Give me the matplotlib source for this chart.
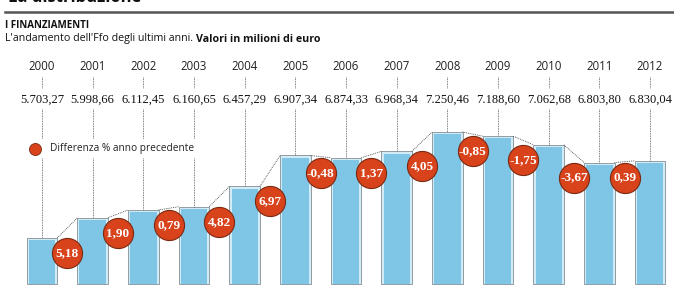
import matplotlib
matplotlib.use("Agg")
import matplotlib.pyplot as plt
import numpy as np

# dati Ffo (milioni di euro)
anni = ["2000", "2001", "2002", "2003", "2004", "2005", "2006",
        "2007", "2008", "2009", "2010", "2011", "2012"]
valori = [5703.27, 5998.66, 6112.45, 6160.65, 6457.29, 6907.34, 6874.33,
          6968.34, 7250.46, 7188.60, 7062.68, 6803.80, 6830.04]
etichette_valori = ["5.703,27", "5.998,66", "6.112,45", "6.160,65", "6.457,29",
                    "6.907,34", "6.874,33", "6.968,34", "7.250,46", "7.188,60",
                    "7.062,68", "6.803,80", "6.830,04"]
differenze = ["5,18", "1,90", "0,79", "4,82", "6,97", "-0,48", "1,37",
              "4,05", "-0,85", "-1,75", "-3,67", "0,39"]

W, H = 674, 287
BLU = "#7fc5e5"
BLU_CHIARO = "#d3ebf6"
ROSSO = "#d8431c"
SANS = ["Open Sans", "DejaVu Sans"]
SERIF = ["Liberation Serif", "DejaVu Serif"]

# scala verticale: 1 px = UNIT unita'
UNIT = 14.594
TOP = 5703.27 + 238 * UNIT


def py(px):
    # riga in pixel (dall'alto) -> coordinata dati
    return TOP - px * UNIT


STEP = 50.67
fig = plt.figure(figsize=(W / 100, H / 100), dpi=100)
ax = fig.add_axes([0, 0, 1, 1])
ax.set_xlim(-42 / STEP, (W - 42) / STEP)
ax.set_ylim(py(H), TOP)
ax.axis("off")

x = np.arange(len(anni))
v = np.array(valori)
base = py(284)
bw = 0.6

# barre: bordo chiaro + riempimento
ax.bar(x, v - base, bottom=base, width=bw, color=BLU_CHIARO,
       edgecolor="#6d7a80", linewidth=0.5, zorder=2)
ax.bar(x, v - base - 2.2 * UNIT, bottom=base, width=bw - 0.08,
       color=BLU, linewidth=0, zorder=3)

# linee tratteggiate tra le barre
for i in range(len(x) - 1):
    ax.plot([x[i] + bw / 2, x[i + 1] - bw / 2], [v[i], v[i + 1]],
            ls=(0, (1, 1.2)), color="#333333", lw=0.6, zorder=2)

# linee verticali e etichette
for i, (a, lab) in enumerate(zip(anni, etichette_valori)):
    ax.text(x[i], py(66), a, ha="center", va="center", fontsize=8.3,
            family=SANS, color="#222222")
    ax.plot([x[i], x[i]], [py(77), py(88)], ls=(0, (1, 1)),
            color="#555555", lw=0.6)
    ax.text(x[i], py(100), lab, ha="center", va="center", fontsize=9,
            family=SERIF, color="#111111")
    if i < 4:
        ax.plot([x[i], x[i]], [py(109), py(139)], ls=(0, (1, 1)),
                color="#555555", lw=0.6)
        ax.plot([x[i], x[i]], [py(158), v[i]], ls=(0, (1, 1)),
                color="#555555", lw=0.6)
    else:
        ax.plot([x[i], x[i]], [py(109), v[i]], ls=(0, (1, 1)),
                color="#555555", lw=0.6)

# cerchi con la differenza %
xm = x[:-1] + 0.5
ym = np.minimum(v[:-1], v[1:]) - 15 * UNIT
ax.scatter(xm, ym, s=470, color=ROSSO, edgecolor="#7a2a12",
           linewidth=0.8, zorder=5)
for xi, yi, d in zip(xm, ym, differenze):
    ax.text(xi, yi, d, ha="center", va="center", fontsize=9.5,
            fontweight="bold", family=SERIF, color="white", zorder=6)

# legenda
ax.scatter([35 / STEP - 42 / STEP], [py(149)], s=75, color=ROSSO,
           edgecolor="#7a2a12", linewidth=0.6, zorder=5)
ax.text(50 / STEP - 42 / STEP, py(149), "Differenza % anno precedente",
        ha="left", va="center", fontsize=7.3, family=SANS, color="#222222")

# intestazione (titolo tagliato in alto come nell'originale)
fig.text(8 / W, 1 - 2 / H, "La distribuzione", ha="left", va="baseline",
         fontsize=12, fontweight="bold", family=SANS, color="#111111")
fig.add_artist(plt.Line2D([5 / W, 1], [1 - 12 / H, 1 - 12 / H],
                          color="#555555", lw=1.8))
fig.text(5 / W, 1 - 25 / H, "I FINANZIAMENTI", ha="left", va="center",
         fontsize=7, fontweight="bold", family=SANS, color="#111111")
t = fig.text(5 / W, 1 - 39 / H, "L'andamento dell'Ffo degli ultimi anni. ",
             ha="left", va="center", fontsize=7.7, family=SANS, color="#111111")
fig.canvas.draw()
bb = t.get_window_extent()
fig.text(bb.x1 / W, 1 - 39 / H, "Valori in milioni di euro", ha="left",
         va="center", fontsize=7.7, fontweight="bold", family=SANS,
         color="#111111")

fig.savefig("out.png", dpi=100)
